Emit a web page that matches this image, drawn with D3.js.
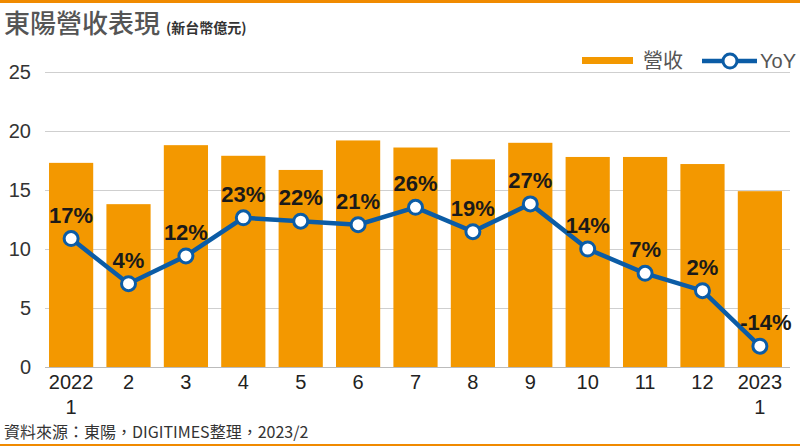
<!DOCTYPE html>
<html>
<head>
<meta charset="utf-8">
<script src="https://cdn.jsdelivr.net/npm/d3@7"></script>
<style>
  body { margin: 0; background: #fff; }
  svg { display: block; font-family: "Liberation Sans", Arial, sans-serif; }
</style>
</head>
<body>
<svg id="chart" width="800" height="446"></svg>
<script>
// data
const months = ["2022\n1", "2", "3", "4", "5", "6", "7", "8", "9", "10", "11", "12", "2023\n1"];
const revenue = [17.3, 13.8, 18.8, 17.9, 16.7, 19.2, 18.6, 17.6, 19.0, 17.8, 17.8, 17.2, 14.9];
const yoy = [17, 4, 12, 23, 22, 21, 26, 19, 27, 14, 7, 2, -14];
const yTicks = [0, 5, 10, 15, 20, 25];

const orange = "#f39800";
const blue = "#0b5ca6";

const svg = d3.select("#chart");
const plotL = 45, plotR = 790, plotT = 72, plotB = 367;

const x = d3.scaleBand().domain(months).range([plotL, 786]).paddingInner(0.23).paddingOuter(0.07);
const y = d3.scaleLinear().domain([0, 25]).range([plotB, plotT]);
// yoy line sits on its own hidden scale
const y2 = d3.scaleLinear().domain([-20, 65]).range([plotB, plotT]);

// top and bottom orange rules
svg.append("rect").attr("x", 0).attr("y", 0).attr("width", 800).attr("height", 3).attr("fill", "#f08a00");
svg.append("rect").attr("x", 0).attr("y", 444).attr("width", 800).attr("height", 2).attr("fill", "#f08a00");

// title
const title = svg.append("text").attr("x", 4).attr("y", 33);
title.append("tspan").text("東陽營收表現")
  .attr("font-family", "'Noto Sans CJK TC', sans-serif")
  .attr("font-size", 26).attr("font-weight", 500).attr("fill", "#555");
title.append("tspan").text("(新台幣億元)").attr("dx", 6)
  .attr("font-family", "'Noto Sans CJK TC', sans-serif")
  .attr("font-size", 14).attr("font-weight", 700).attr("fill", "#333");

// grid
svg.append("g").selectAll("line").data(yTicks).join("line")
  .attr("x1", plotL).attr("x2", plotR)
  .attr("y1", d => y(d) + 0.5).attr("y2", d => y(d) + 0.5)
  .attr("stroke", "#cfcfcf").attr("stroke-width", 1);

// y axis labels
svg.append("g").selectAll("text").data(yTicks).join("text")
  .attr("x", 31).attr("y", d => y(d) + 7)
  .attr("text-anchor", "end").attr("font-size", 20).attr("fill", "#333")
  .text(d => d);

// bars
svg.append("g").selectAll("rect").data(revenue).join("rect")
  .attr("x", (d, i) => x(months[i]))
  .attr("width", x.bandwidth())
  .attr("y", d => y(d))
  .attr("height", d => y(0) - y(d))
  .attr("fill", orange);

// baseline
svg.append("line").attr("x1", plotL).attr("x2", plotR)
  .attr("y1", plotB + 0.5).attr("y2", plotB + 0.5)
  .attr("stroke", "#bbb");

// x labels
const xl = svg.append("g").selectAll("text").data(months).join("text")
  .attr("text-anchor", "middle").attr("font-size", 20).attr("fill", "#222");
xl.each(function(d) {
  const t = d3.select(this);
  d.split("\n").forEach((s, k) => {
    t.append("tspan").attr("x", x(d) + x.bandwidth() / 2).attr("y", 389 + k * 25).text(s);
  });
});

// yoy line
const cx = (d, i) => x(months[i]) + x.bandwidth() / 2;
svg.append("path").datum(yoy)
  .attr("d", d3.line().x(cx).y(d => y2(d)))
  .attr("fill", "none").attr("stroke", blue).attr("stroke-width", 4.5);

svg.append("g").selectAll("circle").data(yoy).join("circle")
  .attr("cx", cx).attr("cy", d => y2(d)).attr("r", 7)
  .attr("fill", "#fff").attr("stroke", blue).attr("stroke-width", 3);

svg.append("g").selectAll("text").data(yoy).join("text")
  .attr("x", (d, i) => cx(d, i) + (d < 0 ? 6 : 0)).attr("y", d => y2(d) - 16)
  .attr("text-anchor", "middle").attr("font-size", 22).attr("font-weight", 700).attr("fill", "#1a1a1a")
  .text(d => d + "%");

// legend
const lg = svg.append("g");
lg.append("rect").attr("x", 582).attr("y", 57).attr("width", 51).attr("height", 7).attr("fill", orange);
lg.append("text").attr("x", 643).attr("y", 68).attr("font-size", 20).attr("fill", "#555")
  .attr("font-family", "'Noto Sans CJK TC', sans-serif").text("營收");
lg.append("line").attr("x1", 702).attr("x2", 757).attr("y1", 61).attr("y2", 61)
  .attr("stroke", blue).attr("stroke-width", 4.5);
lg.append("circle").attr("cx", 730).attr("cy", 61).attr("r", 7)
  .attr("fill", "#fff").attr("stroke", blue).attr("stroke-width", 3);
lg.append("text").attr("x", 760).attr("y", 68).attr("font-size", 20).attr("fill", "#555").text("YoY");

// source
svg.append("text").attr("x", 4).attr("y", 438).attr("font-size", 16).attr("fill", "#333")
  .attr("font-family", "'Noto Sans CJK TC', sans-serif")
  .text("資料來源：東陽，DIGITIMES整理，2023/2");
</script>
</body>
</html>
